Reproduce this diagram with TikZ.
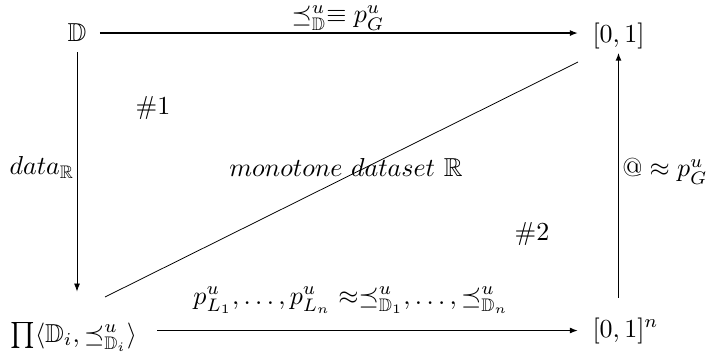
\documentclass[tikz,border=0pt]{standalone}
\usepackage{amssymb}
\usetikzlibrary{arrows.meta}
\begin{document}
\begin{tikzpicture}[x=0.385pt,y=-0.385pt,
  lbl/.style={inner sep=0pt, anchor=base},
  obj/.style={inner sep=0pt},
  tip/.style={-{Latex[length=3.1pt,width=2.3pt]}},
  thickarr/.style={line width=0.55pt,tip},
  thinarr/.style={line width=0.3pt,tip},
  thinline/.style={line width=0.3pt}]
\useasboundingbox (0,0) rectangle (712,352);
\node[obj,anchor=base] (D) at (77,42) {$\mathbb{D}$};
\node[obj,anchor=base west] (I) at (592,43) {$[0,1]$};
\node[obj,anchor=base west] (P) at (10,342) {$\prod\langle\mathbb{D}_i,\preceq^u_{\mathbb{D}_i}\rangle$};
\node[obj,anchor=base west] (In) at (592,337) {$[0,1]^n$};
\coordinate (dA) at (105,297);
\coordinate (dB) at (578,62);
\draw[thickarr,shorten <=5pt,shorten >=5.4pt] (D.east) -- (D.east -| I.west);
\draw[thinarr,shorten <=3.8pt,shorten >=11.7pt] (D.south) -- (D.south |- P.north);
\draw[thickarr,shorten <=7.5pt,shorten >=1pt] (In.north -| I.south) -- (I.south);
\draw[thickarr,shorten <=7.5pt,shorten >=5.4pt] (P.east |- In.west) -- (In.west);
\draw[thinline] (dA) -- (dB);
\node[lbl] (t1) at (338,23) {$\preceq^u_{\mathbb{D}}\equiv p^u_G$};
\node[lbl] (t2) at (351,304) {$p^u_{L_1},\ldots,p^u_{L_n}\approx\preceq^u_{\mathbb{D}_1},\ldots,\preceq^u_{\mathbb{D}_n}$};
\node[lbl] (t3) at (42,175) {$data_{\mathbb{R}}$};
\node[lbl] (h1) at (153,115) {$\#1$};
\node[lbl] (h2) at (532,241) {$\#2$};
\node[lbl] (m) at (346,177) {$monotone\ dataset\ \mathbb{R}$};
\node[lbl] (at) at (665,177) {$@\approx p^u_G$};
\end{tikzpicture}
\end{document}
